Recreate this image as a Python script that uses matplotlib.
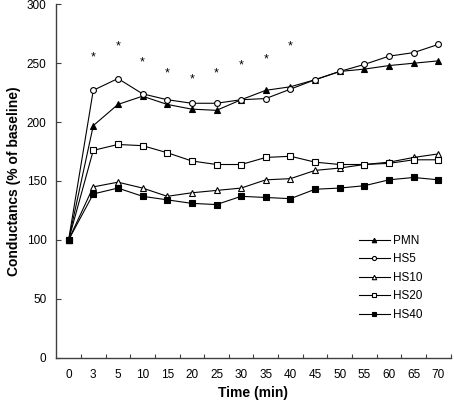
import matplotlib
matplotlib.use("Agg")
import matplotlib.pyplot as plt
import numpy as np

plt.rcParams["font.family"] = ["Liberation Sans", "DejaVu Sans"]

# time points (min), plotted as equally spaced categories
time_labels = ["0", "3", "5", "10", "15", "20", "25", "30", "35",
               "40", "45", "50", "55", "60", "65", "70"]

pmn = [100, 197, 215, 222, 215, 211, 210, 219, 227, 230, 236, 243, 245, 248, 250, 252]
hs5 = [100, 227, 237, 224, 219, 216, 216, 219, 220, 228, 236, 243, 249, 256, 259, 266]
hs10 = [100, 145, 149, 144, 137, 140, 142, 144, 151, 152, 159, 161, 164, 166, 170, 173]
hs20 = [100, 176, 181, 180, 174, 167, 164, 164, 170, 171, 166, 164, 164, 165, 168, 168]
hs40 = [100, 139, 144, 137, 134, 131, 130, 137, 136, 135, 143, 144, 146, 151, 153, 151]

# significance stars: category index and height
star_idx = [1, 2, 3, 4, 5, 6, 7, 8, 9]
star_y = [258, 267, 254, 244, 239, 244, 251, 256, 267]

series = [
    ("PMN", pmn, "^", "black", 4.6),
    ("HS5", hs5, "o", "white", 4.2),
    ("HS10", hs10, "^", "white", 4.6),
    ("HS20", hs20, "s", "white", 3.8),
    ("HS40", hs40, "s", "black", 3.8),
]

fig = plt.figure(figsize=(4.54, 4.0), dpi=100)
ax = fig.add_axes([0.124, 0.1058, 0.8687, 0.8834])

x = np.arange(len(time_labels))
for label, vals, marker, face, ms in series:
    ax.plot(x, vals, color="black", linewidth=0.8, marker=marker,
            markersize=ms, markerfacecolor=face, markeredgecolor="black",
            markeredgewidth=0.8, label=label)

for i, y in zip(star_idx, star_y):
    ax.annotate("*", (x[i], y), xytext=(0, -2.5), textcoords="offset points",
                ha="center", va="center", fontsize=9)

ax.set_xlim(-0.5, len(time_labels) - 0.5)
ax.set_ylim(0, 300)
ax.set_yticks(np.arange(0, 301, 50))

# tick marks between categories, labels at category centres
ax.set_xticks(np.arange(0.5, len(time_labels), 1.0))
ax.set_xticklabels([])
ax.set_xticks(x, minor=True)
ax.set_xticklabels(time_labels, minor=True)
ax.tick_params(axis="x", which="major", direction="in", length=3, width=0.8,
               color="#404040")
ax.tick_params(axis="x", which="minor", length=0, pad=8, labelsize=8.5)
ax.tick_params(axis="y", direction="in", length=3.5, width=0.8,
               color="#404040", pad=7, labelsize=8.5)

for side in ("top", "right"):
    ax.spines[side].set_visible(False)
for side in ("left", "bottom"):
    ax.spines[side].set_color("#404040")
    ax.spines[side].set_linewidth(1.0)

ax.set_xlabel("Time (min)", fontsize=10, fontweight="bold", labelpad=4)
ax.set_ylabel("Conductancs (% of baseline)", fontsize=10, fontweight="bold",
              labelpad=4)

ax.legend(loc="upper left", bbox_to_anchor=(0.791, 0.413),
          bbox_transform=fig.transFigure, frameon=False, fontsize=8.5,
          handlelength=2.6, handletextpad=0.3, labelspacing=0.55,
          borderpad=0, borderaxespad=0, markerscale=0.7)

fig.savefig("out.png", dpi=100)
